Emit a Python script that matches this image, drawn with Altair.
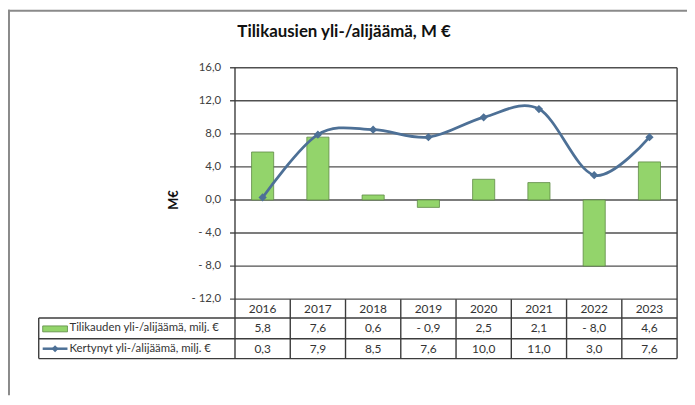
import altair as alt
import pandas as pd

# ---- data ----
years = ["2016", "2017", "2018", "2019", "2020", "2021", "2022", "2023"]
annual = [5.8, 7.6, 0.6, -0.9, 2.5, 2.1, -8.0, 4.6]
cumulative = [0.3, 7.9, 8.5, 7.6, 10.0, 11.0, 3.0, 7.6]
y_ticks = [-12, -8, -4, 0, 4, 8, 12, 16]
title_text = "Tilikausien yli-/alijäämä, M €"
y_title = "M€"
series_bar = "Tilikauden yli-/alijäämä, milj. €"
series_line = "Kertynyt yli-/alijäämä, milj. €"


def fmt(v):
    s = f"{abs(v):.1f}".replace(".", ",")
    return ("- " + s) if v < 0 else s


# ---- layout (pixels, chart coordinates) ----
W, H = 685, 389
PL, PR, PT, PB = 229, 675, 58.5, 292
R1, R2, R3 = 311, 332, 352
TL = 31
FONT = "Lato"
GRID = "#505050"
BAR_FILL = "#93D46B"
BAR_STROKE = "#5F8A46"
LINE_COL = "#4D7096"

df = pd.DataFrame({
    "year": years,
    "annual": annual,
    "cumulative": cumulative,
    "annual_lbl": [fmt(v) for v in annual],
    "cum_lbl": [fmt(v) for v in cumulative],
})
ticks_df = pd.DataFrame({"v": y_ticks, "lbl": [fmt(v) for v in y_ticks]})
one = pd.DataFrame({"a": [0]})

xscale = alt.Scale(domain=years, range=[PL, PR], paddingInner=0, paddingOuter=0)
yscale = alt.Scale(domain=[-12, 16], range=[PB, PT], nice=False, zero=False)
X = alt.X("year:N", scale=xscale, axis=None)

colw = (PR - PL) / len(years)
lines = []
for yy in (R1, R2, R3):
    lines.append({"x": TL, "x2": PR, "y": yy, "y2": yy})
lines.append({"x": PL, "x2": PL, "y": PT, "y2": R3})
lines.append({"x": PR, "x2": PR, "y": PT, "y2": R3})
lines.append({"x": TL, "x2": TL, "y": R1, "y2": R3})
for k in range(1, len(years)):
    xx = PL + k * colw
    lines.append({"x": xx, "x2": xx, "y": PB, "y2": R3})
lines_df = pd.DataFrame(lines)

frame = alt.Chart(pd.DataFrame([
    {"x": 1, "x2": 1, "y": 0, "y2": H},
    {"x": 0, "x2": W, "y": 1, "y2": 1},
])).mark_rule(color="#8a8a8a", strokeWidth=2).encode(
    x=alt.X("x:Q", scale=None), x2="x2:Q", y=alt.Y("y:Q", scale=None), y2="y2:Q")

title = alt.Chart(one).mark_text(
    text=title_text, font=FONT, fontSize=17, fontWeight="bold", color="#111111",
    align="center", baseline="middle").encode(x=alt.value(339), y=alt.value(23))

grid = alt.Chart(ticks_df).mark_rule(color=GRID, strokeWidth=1.4).encode(
    y=alt.Y("v:Q", scale=yscale, axis=None), x=alt.value(PL - 5), x2=alt.value(PR))

tick_lbl = alt.Chart(ticks_df).mark_text(
    font=FONT, fontSize=11.5, color="#404040", align="right", baseline="middle").encode(
    y=alt.Y("v:Q", scale=yscale, axis=None), x=alt.value(215), text="lbl:N")

ytitle = alt.Chart(one).mark_text(
    text=y_title, font=FONT, fontSize=13, fontWeight="bold", color="#111111",
    angle=270, align="center", baseline="middle").encode(x=alt.value(167), y=alt.value(192))

bars = alt.Chart(df).mark_bar(
    width=alt.RelativeBandSize(0.4), color=BAR_FILL, stroke=BAR_STROKE, strokeWidth=0.8).encode(
    x=X, y=alt.Y("annual:Q", scale=yscale, axis=None))

line = alt.Chart(df).mark_line(color=LINE_COL, strokeWidth=2.8, interpolate="cardinal").encode(
    x=X, y=alt.Y("cumulative:Q", scale=yscale, axis=None))

pts = alt.Chart(df).mark_point(shape="diamond", filled=True, size=70, color=LINE_COL, opacity=1).encode(
    x=X, y=alt.Y("cumulative:Q", scale=yscale, axis=None))

table_lines = alt.Chart(lines_df).mark_rule(color="#3c3c3c", strokeWidth=1.4).encode(
    x=alt.X("x:Q", scale=None), x2="x2:Q", y=alt.Y("y:Q", scale=None), y2="y2:Q")

txt = dict(font=FONT, fontSize=12, color="#333333", align="center", baseline="middle")
hdr = alt.Chart(df).mark_text(**txt).encode(x=X, y=alt.value((PB + R1) / 2), text="year:N")
row1 = alt.Chart(df).mark_text(**txt).encode(x=X, y=alt.value((R1 + R2) / 2), text="annual_lbl:N")
row2 = alt.Chart(df).mark_text(**txt).encode(x=X, y=alt.value((R2 + R3) / 2), text="cum_lbl:N")

sw1 = alt.Chart(one).mark_rect(color=BAR_FILL, stroke=BAR_STROKE, strokeWidth=0.8).encode(
    x=alt.value(35), x2=alt.value(60), y=alt.value(319), y2=alt.value(325))
sw2 = alt.Chart(one).mark_rule(color=LINE_COL, strokeWidth=2.5).encode(
    x=alt.value(35), x2=alt.value(60), y=alt.value((R2 + R3) / 2))
sw2p = alt.Chart(one).mark_point(shape="diamond", filled=True, size=50, color=LINE_COL, opacity=1).encode(
    x=alt.value(47.5), y=alt.value((R2 + R3) / 2))
lbl = dict(font=FONT, fontSize=11.5, color="#333333", align="left", baseline="middle")
l1 = alt.Chart(one).mark_text(text=series_bar, **lbl).encode(x=alt.value(62), y=alt.value((R1 + R2) / 2))
l2 = alt.Chart(one).mark_text(text=series_line, **lbl).encode(x=alt.value(62), y=alt.value((R2 + R3) / 2))

chart = alt.layer(
    frame, title, grid, tick_lbl, ytitle, bars, line, pts, table_lines,
    hdr, row1, row2, sw1, sw2, sw2p, l1, l2,
).properties(
    width=W, height=H, padding=0, autosize=alt.AutoSizeParams(type="none"),
).resolve_scale(x="independent", y="independent").configure_view(stroke=None)

chart.save("out.html", embed_options={"renderer": "svg", "actions": False})
